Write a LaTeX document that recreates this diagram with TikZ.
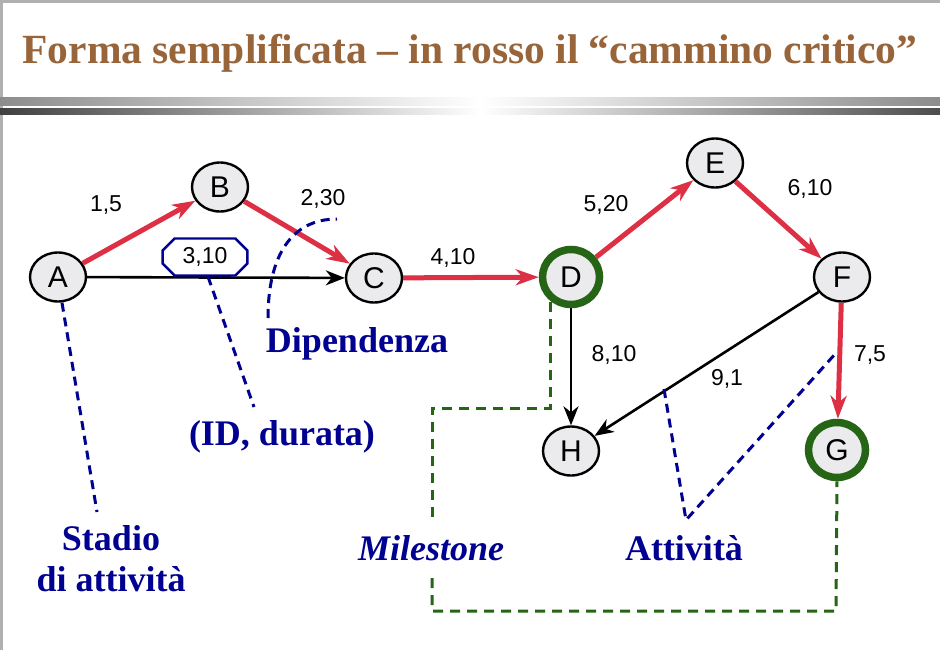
\documentclass[tikz,border=0pt]{standalone}
\usepackage{fontspec}
\setmainfont{Liberation Serif}
\setsansfont{Liberation Sans}
\usetikzlibrary{arrows.meta,shapes.geometric,shapes.misc}
\definecolor{titlebrown}{RGB}{152,101,58}
\definecolor{notenavy}{RGB}{0,0,145}
\definecolor{critred}{RGB}{221,48,68}
\definecolor{milegreen}{RGB}{38,100,22}
\definecolor{stagefill}{RGB}{235,235,238}
\definecolor{framegray}{RGB}{176,176,176}

\begin{document}
\begin{tikzpicture}[x=1pt,y=-1pt,
	stadio/.style={ellipse,draw=black,line width=2.4pt,fill=stagefill,minimum width=56pt,minimum height=49pt,inner sep=0pt,font=\sffamily\fontsize{30}{32}\selectfont},
	milestone/.style={stadio,draw=milegreen,line width=7.5pt,minimum width=57pt,minimum height=55pt},
	durata/.style={font=\sffamily\fontsize{23}{25}\selectfont,inner sep=0pt},
	critico/.style={critred,line width=5pt,-{Stealth[length=23pt,width=16pt,inset=7pt]}},
	dipende/.style={black,line width=2.6pt,-{Stealth[length=19pt,width=15pt,inset=6pt]}},
	nota/.style={notenavy,font=\bfseries\fontsize{36}{41}\selectfont,inner sep=0pt,anchor=base},
	notadash/.style={notenavy,line width=3pt,dash pattern=on 9pt off 6pt},
	miledash/.style={milegreen,line width=3pt,dash pattern=on 10pt off 7pt}]
	\useasboundingbox (0,0) rectangle (940,656);
	\draw[framegray,line width=3pt] (1.5,650) -- (1.5,1.5) -- (940,1.5);
	\node[titlebrown,font=\bfseries\fontsize{41.5}{44}\selectfont,anchor=base,inner sep=0pt] (titolo) at (470,63) {Forma semplificata – in rosso il “cammino critico”};
	\shade[left color=gray!90,right color=white] (0,97) rectangle (480,105);
	\shade[left color=white,right color=gray!110!black] (480,97) rectangle (940,105);
	\shade[left color=black!75,right color=white] (0,108) rectangle (480,114);
	\shade[left color=white,right color=black!70] (480,108) rectangle (940,114);

	\foreach \n/\x/\y in {A/58/277, B/220/187, C/374/278, E/715/163, F/842/277, H/571/451} {
		\node[stadio] (\n) at (\x,\y) {\n};
	}
	\foreach \n/\x/\y in {D/571/277, G/837/450} {
		\node[milestone] (\n) at (\x,\y) {\n};
	}
	\foreach \a/\b in {A/B, B/C, C/D, D/E, E/F, F/G} {
		\draw[critico] (\a) -- (\b);
	}
	\foreach \a/\b in {A/C, D/H, F/H} {
		\draw[dipende] (\a) -- (\b);
	}
	\foreach \t/\x/\y [count=\k] in {{1,5}/106/205, {2,30}/323/199, {4,10}/453/258, {5,20}/606/205, {6,10}/810/189, {8,10}/614/355, {9,1}/727/379, {7,5}/870/355} {
		\node[durata] (dur\k) at (\x,\y) {\t};
	}
	\node[durata,chamfered rectangle,chamfered rectangle xsep=6pt,chamfered rectangle ysep=6pt,draw=notenavy,line width=2.4pt,inner xsep=14pt,inner ysep=3pt] (idbox) at (205,257) {3,10};

	\coordinate (stadiopt) at (97,512);
	\coordinate (idpt) at (254,407);
	\coordinate (dipA) at (268,318);
	\coordinate (dipB) at (337,219);
	\coordinate (attA) at (664,389);
	\coordinate (attB) at (686,520);
	\coordinate (attC) at (836,353);
	\draw[notadash] ([xshift=4pt]A.south) -- (stadiopt);
	\draw[notadash] ([xshift=3pt]idbox.south) -- (idpt);
	\draw[notadash] (dipA) .. controls (268,255) and (292,219) .. (dipB);
	\draw[notadash] (attA) -- (attB) -- (attC);

	\coordinate (msA) at (550,302);
	\coordinate (msB) at (550,408);
	\coordinate (msC) at (432,408);
	\coordinate (msD) at (432,520);
	\coordinate (msE) at (432,578);
	\coordinate (msF) at (432,611);
	\coordinate (msG) at (836,611);
	\draw[miledash] (msA) -- (msB) -- (msC) -- (msD);
	\draw[miledash] (msE) -- (msF) -- (msG) -- (G.south);

	\node[nota] (dipendenza) at (357,352) {Dipendenza};
	\node[nota] (iddurata) at (282,445) {(ID, durata)};
	\node[nota,align=center,font=\bfseries\fontsize{36}{41}\selectfont] (stadiotxt) at (111,591) {Stadio\\di attività};
	\node[nota,font=\bfseries\itshape\fontsize{36}{41}\selectfont] (miletxt) at (431,560) {Milestone};
	\node[nota] (attivita) at (684,560) {Attività};
\end{tikzpicture}
\end{document}
